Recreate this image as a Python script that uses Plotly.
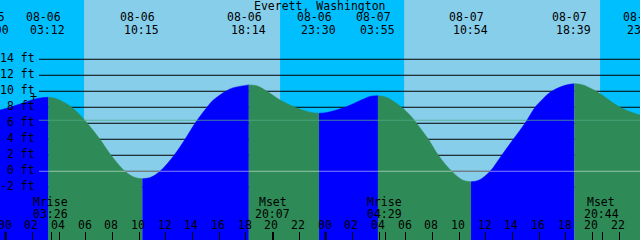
import plotly.graph_objects as go

# ---------------- data ----------------
station = "Everett, Washington"

# tide extremes (date, time, height ft)
ext_dates = ["08-05", "08-06", "08-06", "08-06", "08-06", "08-07", "08-07", "08-07", "08-07"]
ext_times = ["23:00", "03:12", "10:15", "18:14", "23:30", "03:55", "10:54", "18:39", "23:55"]
ext_heights = [7.6, 9.25, -0.93, 10.8, 7.25, 9.45, -1.3, 10.95, 7.0]

# intermediate tide readings (hours from 08-06 00:00, ft)
mid_hours = [-0.43, 1.07, 2.0, 2.6,
             3.8, 4.95, 6.12, 7.07, 7.9, 8.95, 9.65,
             10.85, 11.57, 12.63, 13.45, 14.2, 15.1, 15.57, 16.83, 17.63,
             18.83, 19.6, 20.58, 21.7, 22.9,
             24.1, 25.45, 26.8, 27.32,
             28.52, 29.3, 30.33, 31.08, 31.7, 32.45, 33.45, 34.28,
             35.48, 36.33, 37.2, 38.07, 38.95, 39.7, 40.08, 40.95, 42.02,
             43.22, 44.3, 46.08, 47.57]
mid_ft = [7.66, 8.4, 8.95, 9.17,
          9.07, 8.0, 6.0, 4.0, 2.0, 0.0, -0.75,
          -0.77, 0.0, 2.0, 4.0, 6.0, 8.0, 8.9, 10.3, 10.64,
          10.69, 10.0, 8.9, 8.0, 7.36,
          7.35, 8.0, 9.0, 9.35,
          9.26, 8.5, 7.0, 5.4, 4.0, 2.0, 0.0, -1.11,
          -1.12, 0.0, 2.0, 4.0, 6.0, 8.0, 8.7, 10.0, 10.77,
          10.83, 10.0, 8.0, 7.04]

# sun: night intervals (hours)
night_start = [-2.0, 20.58, 44.58]
night_end = [5.875, 29.88, 50.0]

# moon events
moon_names = ["Mrise", "Mset", "Mrise", "Mset"]
moon_dates = ["08-06", "08-06", "08-07", "08-07"]
moon_times = ["03:26", "20:07", "04:29", "20:44"]

# axis labels
level_ticks = [14, 12, 10, 8, 6, 4, 2, 0, -2]
hour_ticks = list(range(0, 48, 2))
msl_ft = 6.375
mark_hour, mark_ft = 2.12, 9.29

# ---------------- helpers ----------------
def to_hours(d, t):
    day = int(d.split("-")[1])
    hh, mm = t.split(":")
    return (day - 6) * 24 + int(hh) + int(mm) / 60.0

ext_hours = [to_hours(d, t) for d, t in zip(ext_dates, ext_times)]
moon_hours = [to_hours(d, t) for d, t in zip(moon_dates, moon_times)]

RISE = "#0000FF"
FALL = "#2E8B57"
DAY = "#87CEEB"
NIGHT = "#00BFFF"
FONT = "DejaVu Sans Mono"
FS = 11.5
XR = [-0.4275, 47.5725]
YR = [-8.59, 21.41]
BASE = -20


def px(h):
    """hour -> paper fraction along the x axis"""
    return (h - XR[0]) / (XR[1] - XR[0])


fig = go.Figure()

# tide curve segments between extremes
for i in range(len(ext_hours) - 1):
    h0, h1 = ext_hours[i], ext_hours[i + 1]
    xs = [h0] + [h for h in mid_hours if h0 < h < h1] + [h1]
    ys = [ext_heights[i]] + [f for h, f in zip(mid_hours, mid_ft) if h0 < h < h1] + [ext_heights[i + 1]]
    color = RISE if ext_heights[i + 1] > ext_heights[i] else FALL
    fig.add_trace(go.Scatter(x=[h0, h1], y=[BASE, BASE], mode="lines",
                             line=dict(width=0, color=color), hoverinfo="skip", showlegend=False))
    fig.add_trace(go.Scatter(x=xs, y=ys, mode="lines", fill="tonexty", fillcolor=color,
                             line=dict(width=0.5, color=color, shape="spline", smoothing=1),
                             hoverinfo="skip", showlegend=False))

shapes = []
for s, e in zip(night_start, night_end):
    shapes.append(dict(type="rect", xref="x", yref="paper", x0=s, x1=e, y0=0, y1=1,
                       fillcolor=NIGHT, line=dict(width=0), layer="below"))
x_line0 = XR[0] + 39 / 640 * (XR[1] - XR[0])
for lv in level_ticks:
    shapes.append(dict(type="line", xref="x", yref="y", x0=x_line0, x1=XR[1] + 1, y0=lv, y1=lv,
                       line=dict(color="black", width=1), layer="below"))
# datum and msl lines on top
shapes.append(dict(type="line", xref="x", yref="y", x0=x_line0, x1=XR[1] + 1, y0=0, y1=0,
                   line=dict(color="rgba(255,255,255,0.5)", width=1), layer="above"))
shapes.append(dict(type="line", xref="x", yref="y", x0=x_line0, x1=XR[1] + 1, y0=msl_ft, y1=msl_ft,
                   line=dict(color="rgba(80,170,130,0.75)", width=1), layer="above"))
# midnight ticks (thick)
for h in hour_ticks:
    if h % 24 == 0:
        shapes.append(dict(type="line", xref="x", yref="paper", x0=h, x1=h, y0=0, y1=8.3 / 240,
                           line=dict(color="black", width=2), layer="above"))


def txt(text, x, ypx, xanchor="center", xshift=0, size=FS):
    return dict(text=text, xref="paper", yref="paper", x=x, y=1 - ypx / 240, xshift=xshift,
                xanchor=xanchor, yanchor="middle", showarrow=False,
                font=dict(family=FONT, size=size, color="black"))


ann = [txt(station, 0.5, 6)]
for d, t, h in zip(ext_dates, ext_times, ext_hours):
    ann.append(txt(d, px(h), 17, xshift=-4.5))
    ann.append(txt(t, px(h), 29.5, xshift=-0.5))
for lv in level_ticks:
    ann.append(dict(text=f"{lv} ft", xref="paper", yref="y", x=36.5 / 640, y=lv, yshift=1,
                    xanchor="right", yanchor="middle", showarrow=False,
                    font=dict(family=FONT, size=FS, color="black")))
for n, t, h in zip(moon_names, moon_times, moon_hours):
    ann.append(txt(n, px(h), 202, xshift=-1))
    ann.append(txt(t, px(h), 213.5, xshift=-1))
for h in hour_ticks:
    ann.append(txt(f"{h % 24:02d}", px(h), 225, xshift=-1))
ann.append(dict(text="+", xref="x", yref="y", x=mark_hour, y=mark_ft,
                xanchor="center", yanchor="middle", showarrow=False,
                font=dict(family=FONT, size=12, color="black")))

fig.update_layout(
    width=640, height=240,
    margin=dict(l=0, r=0, t=0, b=0),
    paper_bgcolor=DAY, plot_bgcolor=DAY,
    showlegend=False,
    shapes=shapes, annotations=ann,
    xaxis=dict(range=XR, showgrid=False, zeroline=False, showline=False,
               tickmode="array", tickvals=hour_ticks + moon_hours, ticks="inside",
               ticklen=8, tickwidth=1, tickcolor="black", showticklabels=False, fixedrange=True),
    yaxis=dict(range=YR, showgrid=False, zeroline=False, showline=False,
               showticklabels=False, ticks="", fixedrange=True),
)

fig.write_html("out.html")
